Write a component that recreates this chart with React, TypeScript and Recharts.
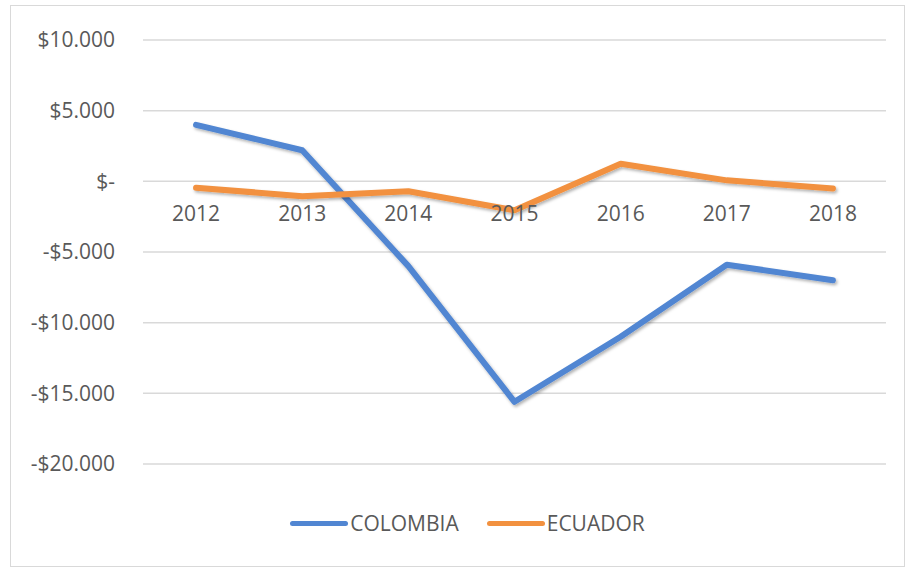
import React from 'react';
import { LineChart, Line, XAxis, YAxis, CartesianGrid, Legend } from 'recharts';

const YEARS = ['2012', '2013', '2014', '2015', '2016', '2017', '2018'];
const COLOMBIA = [4000, 2200, -6000, -15600, -11000, -5900, -7000];
const ECUADOR = [-450, -1050, -700, -2050, 1250, 70, -500];
const Y_TICKS = [-20000, -15000, -10000, -5000, 0, 5000, 10000];

const BLUE = '#5186d2';
const ORANGE = '#f2913f';
const TEXT = '#595959';
const FONT = '"Open Sans", "Liberation Sans", sans-serif';
const FS = 21;

const W = 909;
const H = 567;
const M_TOP = 40;
const PLOT_H = 424;
const Y_MIN = -20000;
const Y_MAX = 10000;
// x labels sit under the zero line, like excel does
const ZERO_Y = M_TOP + (PLOT_H * Y_MAX) / (Y_MAX - Y_MIN);

const data = YEARS.map((year, i) => ({
  year,
  colombia: COLOMBIA[i],
  ecuador: ECUADOR[i],
}));

const fmt = (v: number) => {
  if (v === 0) return '$-';
  const s = Math.abs(v).toLocaleString('de-DE');
  return v < 0 ? `-$${s}` : `$${s}`;
};

const YearTick = (props: any) => (
  <text
    x={props.x}
    y={ZERO_Y + 32}
    textAnchor="middle"
    dominantBaseline="central"
    fill={TEXT}
    fontSize={FS}
    fontFamily={FONT}
  >
    {props.payload.value}
  </text>
);

const LegendBox = () => (
  <div
    style={{
      height: 40,
      paddingLeft: 49,
      display: 'flex',
      justifyContent: 'center',
      alignItems: 'center',
      fontFamily: FONT,
      fontSize: FS,
      color: TEXT,
    }}
  >
    {[
      { name: 'COLOMBIA', color: BLUE },
      { name: 'ECUADOR', color: ORANGE },
    ].map((s, i) => (
      <div key={s.name} style={{ display: 'flex', alignItems: 'center', marginLeft: i ? 28 : 0 }}>
        <span
          style={{
            display: 'inline-block',
            width: 58,
            height: 5,
            borderRadius: 3,
            background: s.color,
            marginRight: 2,
          }}
        />
        {s.name}
      </div>
    ))}
  </div>
);

export default function App() {
  return (
    <div style={{ position: 'absolute', left: 0, top: 0, width: W, height: H, background: '#fff' }}>
      <div
        style={{
          position: 'absolute',
          left: 10,
          top: 5,
          width: 893,
          height: 560,
          border: '1px solid #d9d9d9',
        }}
      />
      <LineChart
        width={W}
        height={H}
        data={data}
        margin={{ top: M_TOP, right: 23, bottom: 24, left: 0 }}
        style={{ position: 'absolute', left: 0, top: 0 }}
      >
        <defs>
          <filter id="shadow" x="-10%" y="-10%" width="120%" height="130%">
            <feDropShadow dx="1.5" dy="2" stdDeviation="1.5" floodColor="#000" floodOpacity="0.3" />
          </filter>
        </defs>
        <CartesianGrid vertical={false} stroke="#d9d9d9" strokeWidth={1.5} />
        <XAxis
          dataKey="year"
          scale="band"
          height={39}
          axisLine={false}
          tickLine={false}
          tick={<YearTick />}
        />
        <YAxis
          width={143}
          domain={[Y_MIN, Y_MAX]}
          ticks={Y_TICKS}
          tickFormatter={fmt}
          axisLine={false}
          tickLine={false}
          tickSize={0}
          tickMargin={28}
          tick={{ fill: TEXT, fontSize: FS, fontFamily: FONT }}
        />
        <Legend verticalAlign="bottom" content={<LegendBox />} />
        <Line
          dataKey="colombia"
          name="COLOMBIA"
          stroke={BLUE}
          strokeWidth={6}
          strokeLinecap="round"
          strokeLinejoin="round"
          dot={false}
          filter="url(#shadow)"
          isAnimationActive={false}
        />
        <Line
          dataKey="ecuador"
          name="ECUADOR"
          stroke={ORANGE}
          strokeWidth={6}
          strokeLinecap="round"
          strokeLinejoin="round"
          dot={false}
          filter="url(#shadow)"
          isAnimationActive={false}
        />
      </LineChart>
    </div>
  );
}
